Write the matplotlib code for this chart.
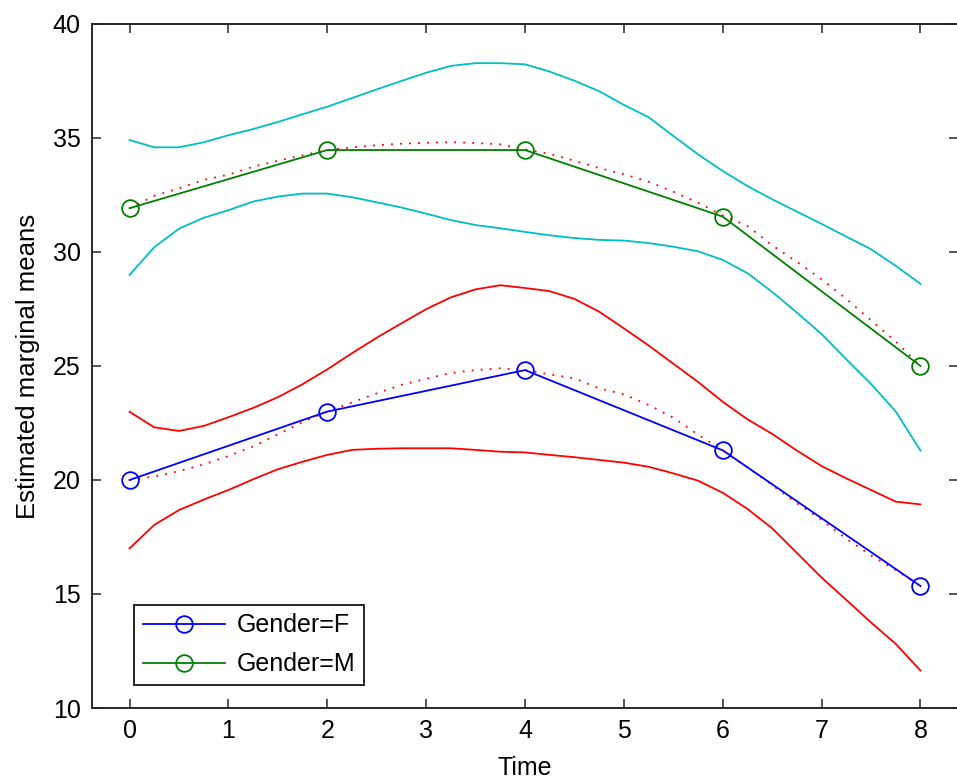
import numpy as np
import matplotlib
matplotlib.use("Agg")
import matplotlib.pyplot as plt

plt.rcParams['font.family'] = ['Liberation Sans', 'DejaVu Sans']

# estimated marginal means at each time
tiempo = [0, 2, 4, 6, 8]
media_f = [20.0, 23.0, 24.82, 21.3, 15.35]
media_m = [31.92, 34.47, 34.47, 31.55, 25.0]

# smooth curves every 0.25 (fitted curve and confidence bounds)
t_curva = [0, 0.25, 0.5, 0.75, 1, 1.25, 1.5, 1.75, 2, 2.25, 2.5, 2.75, 3, 3.25, 3.5, 3.75,
           4, 4.25, 4.5, 4.75, 5, 5.25, 5.5, 5.75, 6, 6.25, 6.5, 6.75, 7, 7.25, 7.5, 7.75, 8]
ajuste_f = [20.0, 20.15, 20.39, 20.68, 21.05, 21.47, 22.0, 22.54, 23.0, 23.4, 23.8, 24.17,
            24.44, 24.69, 24.82, 24.9, 24.82, 24.63, 24.46, 24.02, 23.76, 23.29, 22.73, 21.99,
            21.3, 20.55, 19.78, 18.98, 18.25, 17.42, 16.69, 16.05, 15.35]
ajuste_m = [31.92, 32.46, 32.79, 33.16, 33.39, 33.74, 34.0, 34.24, 34.47, 34.59, 34.68, 34.75,
            34.79, 34.81, 34.78, 34.72, 34.5, 34.3, 34.0, 33.68, 33.41, 33.08, 32.64, 32.16,
            31.6, 31.14, 30.29, 29.57, 28.8, 27.94, 27.0, 26.07, 25.0]
sup_f = [22.99, 22.31, 22.15, 22.37, 22.75, 23.16, 23.63, 24.2, 24.85, 25.56, 26.24, 26.87,
         27.49, 28.01, 28.36, 28.54, 28.42, 28.28, 27.94, 27.38, 26.65, 25.9, 25.1, 24.3,
         23.43, 22.66, 22.02, 21.29, 20.61, 20.07, 19.56, 19.05, 18.93]
inf_f = [17.0, 18.03, 18.68, 19.14, 19.56, 20.03, 20.47, 20.8, 21.1, 21.32, 21.37, 21.39,
         21.39, 21.39, 21.32, 21.24, 21.21, 21.1, 21.0, 20.88, 20.76, 20.58, 20.29, 19.97,
         19.44, 18.73, 17.88, 16.8, 15.72, 14.74, 13.75, 12.81, 11.64]
sup_m = [34.91, 34.59, 34.59, 34.81, 35.12, 35.39, 35.7, 36.04, 36.37, 36.75, 37.13, 37.5,
         37.86, 38.16, 38.28, 38.28, 38.23, 37.91, 37.51, 37.05, 36.45, 35.91, 35.09, 34.28,
         33.55, 32.89, 32.31, 31.77, 31.23, 30.67, 30.12, 29.39, 28.6]
inf_m = [28.99, 30.21, 31.02, 31.5, 31.83, 32.21, 32.43, 32.56, 32.56, 32.4, 32.18, 31.95,
         31.68, 31.4, 31.18, 31.04, 30.88, 30.73, 30.61, 30.53, 30.5, 30.39, 30.23, 30.03,
         29.65, 29.07, 28.25, 27.34, 26.4, 25.29, 24.21, 23.0, 21.29]

cian = (0.0, 0.75, 0.75)
verde = (0.0, 0.5, 0.0)
punteado = (0, (1, 4))

fig = plt.figure(figsize=(9.57, 7.8), dpi=100)
ax = fig.add_axes([0.0961, 0.0923, 0.905, 0.877])

ax.plot(t_curva, sup_f, color='red', lw=1.3)
ax.plot(t_curva, inf_f, color='red', lw=1.3)
ax.plot(t_curva, sup_m, color=cian, lw=1.3)
ax.plot(t_curva, inf_m, color=cian, lw=1.3)
ax.plot(t_curva, ajuste_f, color='red', lw=1.3, linestyle=punteado)
ax.plot(t_curva, ajuste_m, color='red', lw=1.3, linestyle=punteado)

lf, = ax.plot(tiempo, media_f, color='blue', lw=1.3, marker='o', markersize=12,
              markerfacecolor='none', markeredgewidth=1.3, label='Gender=F')
lm, = ax.plot(tiempo, media_m, color=verde, lw=1.3, marker='o', markersize=12,
              markerfacecolor='none', markeredgewidth=1.3, label='Gender=M')

ax.set_xlim(-0.38, 8.38)
ax.set_ylim(10, 40)
ax.set_xticks(range(0, 9))
ax.set_yticks(range(10, 41, 5))
ax.tick_params(direction='in', length=6.5, width=1.1, top=True, right=True,
               labelsize=18, pad=8, color='#262626')
for s in ax.spines.values():
    s.set_linewidth(1.4)
    s.set_color('#262626')

ax.set_xlabel('Time', fontsize=18, labelpad=9)
ax.set_ylabel('Estimated marginal means', fontsize=18.5, labelpad=9)

leg = ax.legend(handles=[lf, lm], loc='lower left', bbox_to_anchor=(0.0485, 0.0336),
                borderaxespad=0, fontsize=18, fancybox=False, framealpha=1,
                edgecolor='#262626', handlelength=3.3, handletextpad=0.45,
                labelspacing=0.6, borderpad=0.35)
leg.get_frame().set_linewidth(1.4)

plt.savefig('out.png', dpi=100)
